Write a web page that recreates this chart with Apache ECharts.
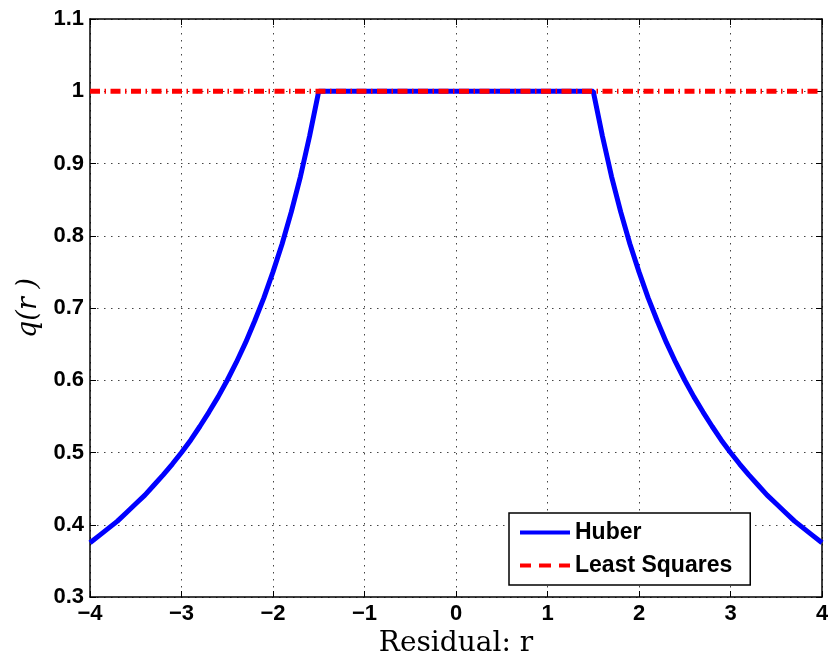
<!DOCTYPE html>
<html><head><meta charset="utf-8">
<script src="https://cdn.jsdelivr.net/npm/echarts@6/dist/echarts.min.js"></script>
<style>html,body{margin:0;padding:0;background:#fff}#c{width:828px;height:658px}</style>
</head><body><div id="c"></div>
<script>
// Data
const huberR = [-4, -3.9, -3.8, -3.7, -3.6, -3.5, -3.4, -3.3, -3.2, -3.1, -3, -2.9, -2.8, -2.7, -2.6,
                -2.5, -2.4, -2.3, -2.2, -2.1, -2, -1.9, -1.8, -1.7, -1.6, -1.5,
                1.5, 1.6, 1.7, 1.8, 1.9, 2, 2.1, 2.2, 2.3, 2.4, 2.5,
                2.6, 2.7, 2.8, 2.9, 3, 3.1, 3.2, 3.3, 3.4, 3.5, 3.6, 3.7, 3.8, 3.9, 4];
const huberQ = [0.375, 0.385, 0.395, 0.405, 0.417, 0.429, 0.441, 0.455, 0.469, 0.484, 0.5, 0.517, 0.536, 0.556, 0.577,
                0.6, 0.625, 0.652, 0.682, 0.714, 0.75, 0.789, 0.833, 0.882, 0.938, 1.0,
                1.0, 0.938, 0.882, 0.833, 0.789, 0.75, 0.714, 0.682, 0.652, 0.625, 0.6,
                0.577, 0.556, 0.536, 0.517, 0.5, 0.484, 0.469, 0.455, 0.441, 0.429, 0.417, 0.405, 0.395, 0.385, 0.375];
const lsR = [-4, 4];
const lsQ = [1, 1];
const seriesNames = ['Huber', 'Least Squares'];
const xTicks = [-4, -3, -2, -1, 0, 1, 2, 3, 4];
const yTicks = [0.3, 0.4, 0.5, 0.6, 0.7, 0.8, 0.9, 1, 1.1];

const chart = echarts.init(document.getElementById('c'));
const G = {left: 90, top: 19, width: 732, height: 578, containLabel: false, outerBoundsMode: 'none'};
const lblFont = {fontFamily: 'Liberation Sans, Arial, sans-serif', fontWeight: 'bold', fontSize: 22, color: '#000'};
const gridLine = {show: true, lineStyle: {color: '#444', type: [1.5, 5.5], width: 1}};
const axisLineS = {show: true, onZero: false, lineStyle: {color: '#000', width: 1.5}};
const tickS = {show: true, inside: true, length: 6, lineStyle: {color: '#000', width: 1}};
const fmt = v => String(Math.round(v * 10) / 10).replace('-', '\u2212');

chart.setOption({
  animation: false,
  backgroundColor: '#fff',
  grid: G,
  xAxis: [{
    type: 'value', min: xTicks[0], max: xTicks[xTicks.length - 1], interval: 1,
    axisLine: axisLineS, axisTick: tickS, splitLine: gridLine,
    axisLabel: Object.assign({margin: 6, formatter: fmt}, lblFont),
    name: 'Residual: r', nameLocation: 'middle', nameGap: 29,
    nameTextStyle: {fontFamily: 'DejaVu Serif, Liberation Serif, serif', fontSize: 28, color: '#000'}
  }, {
    type: 'value', position: 'top', min: -4, max: 4, interval: 1,
    axisLine: axisLineS, axisTick: tickS, splitLine: {show: false}, axisLabel: {show: false}
  }],
  yAxis: [{
    type: 'value', min: yTicks[0], max: yTicks[yTicks.length - 1], interval: 0.1,
    axisLine: axisLineS, axisTick: tickS, splitLine: gridLine,
    axisLabel: Object.assign({margin: 6, formatter: fmt}, lblFont),
    name: 'q(r )', nameLocation: 'middle', nameGap: 48, nameRotate: 90,
    nameTextStyle: {fontFamily: 'DejaVu Serif, Liberation Serif, serif', fontStyle: 'italic', fontSize: 27, color: '#000'}
  }, {
    type: 'value', position: 'right', min: 0.3, max: 1.1, interval: 0.1,
    axisLine: axisLineS, axisTick: tickS, splitLine: {show: false}, axisLabel: {show: false}
  }],
  legend: {
    orient: 'vertical', left: 509, top: 513,
    padding: [8, 18, 8, 11], itemGap: 10, itemWidth: 50, itemHeight: 14,
    borderColor: '#000', borderWidth: 1.5, backgroundColor: '#fff',
    textStyle: Object.assign({}, lblFont, {fontSize: 23}),
    data: [
      {name: seriesNames[0], icon: 'path://M0,5 L50,5 L50,9 L0,9 Z', itemStyle: {color: '#0000ff'}},
      {name: seriesNames[1], icon: 'path://M0,5 L11,5 L11,9 L0,9 Z M19,5 L31,5 L31,9 L19,9 Z M39,5 L50,5 L50,9 L39,9 Z', itemStyle: {color: '#ff0000'}}
    ]
  },
  series: [{
    name: seriesNames[0], type: 'line', showSymbol: false, symbol: 'none',
    data: huberR.map((r, i) => [r, huberQ[i]]),
    lineStyle: {color: '#0000ff', width: 5}, itemStyle: {color: '#0000ff'}, z: 2
  }, {
    name: seriesNames[1], type: 'line', showSymbol: false, symbol: 'none',
    data: lsR.map((r, i) => [r, lsQ[i]]),
    lineStyle: {color: '#ff0000', width: 5, type: [10, 4.5, 1.5, 4.5]}, itemStyle: {color: '#ff0000'}, z: 3
  }]
});
</script></body></html>
